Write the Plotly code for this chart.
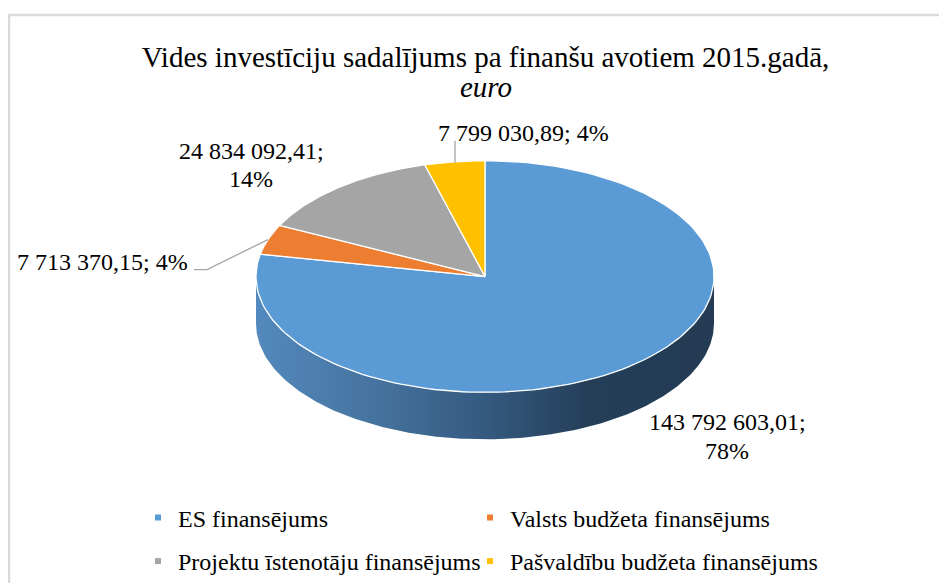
import numpy as np
import plotly.graph_objects as go

categories = ["ES finansējums", "Valsts budžeta finansējums",
              "Projektu īstenotāju finansējums", "Pašvaldību budžeta finansējums"]
values = [143792603.01, 7713370.15, 24834092.41, 7799030.89]
percent_labels = ["78%", "4%", "14%", "4%"]
value_labels = ["143 792 603,01", "7 713 370,15", "24 834 092,41", "7 799 030,89"]
colors = ["#5B9BD5", "#ED7D31", "#A5A5A5", "#FFC000"]

FONT = "Liberation Serif"
W, H = 947, 584
PAGE_MARGIN = 8
CX, CY, RX, RY, DEPTH = 485, 277, 229, 116, 47


def pt(t):
    return CX + RX * np.sin(t), CY - RY * np.cos(t)


def paper_x(px):
    return (px - PAGE_MARGIN) / (W - PAGE_MARGIN)


def paper_y(py):
    return 1 - (py - PAGE_MARGIN) / (H - PAGE_MARGIN)


fig = go.Figure()

# Side wall of the disc (only the front half is visible)
ts = np.linspace(np.pi / 2, 3 * np.pi / 2, 200)
ex, ey = pt(ts)
fig.add_trace(go.Scatter(
    x=np.r_[ex, ex[::-1]], y=np.r_[ey + DEPTH, ey[::-1]],
    mode="lines", line=dict(width=0), showlegend=False, hoverinfo="skip",
    fill="toself",
    fillgradient=dict(type="horizontal", start=CX - RX, stop=CX + RX,
                      colorscale=[[0, "#5389BD"], [0.25, "#4674A0"], [0.5, "#355A80"],
                                  [0.72, "#253F59"], [1, "#233B53"]]),
))

# Top face: one sector per value, clockwise from 12 o'clock
share = np.array(values) / sum(values)
edges = np.r_[0, np.cumsum(share)] * 2 * np.pi
for i, name in enumerate(categories):
    t = np.linspace(edges[i], edges[i + 1], 160)
    x, y = pt(t)
    fig.add_trace(go.Scatter(
        x=np.r_[CX, x, CX], y=np.r_[CY, y, CY], mode="lines",
        line=dict(color="white", width=1.3), fill="toself", fillcolor=colors[i],
        showlegend=False, name=name,
        hovertemplate=f"{name}<br>{value_labels[i]}; {percent_labels[i]}<extra></extra>",
    ))

# Legend entries: each in its own legend box, placed on a 2x2 grid
legend_ids = ["legend", "legend2", "legend3", "legend4"]
for i, name in enumerate(categories):
    fig.add_trace(go.Scatter(
        x=[None], y=[None], mode="markers", name=name,
        marker=dict(symbol="square", size=6, color=colors[i]),
        legend=legend_ids[i],
    ))

# Data labels (one annotation per line, for the tight line spacing)
label_lines = [
    (f"{value_labels[0]};", 727, 423),
    (percent_labels[0], 727, 452),
    (f"{value_labels[1]}; {percent_labels[1]}", 102, 262),
    (f"{value_labels[2]};", 251, 151),
    (percent_labels[2], 251, 179),
    (f"{value_labels[3]}; {percent_labels[3]}", 523, 133),
]
for txt, lx, ly in label_lines:
    fig.add_annotation(x=lx, y=ly, text=txt, showarrow=False, xanchor="center", yanchor="middle",
                       font=dict(family=FONT, size=24, color="black"))

# Second title line
fig.add_annotation(x=485.5, y=87, text="<i>euro</i>", showarrow=False, xanchor="center",
                   yanchor="middle", font=dict(family=FONT, size=29, color="black"))

# Leader lines and chart frame
grey = "#A6A6A6"
shapes = [
    dict(type="path", path="M 194 270 L 207 270 L 268 240", line=dict(color=grey, width=1.3)),
    dict(type="path", path="M 455 163 L 455 141", line=dict(color=grey, width=1.3)),
    dict(type="rect", x0=9, y0=15, x1=990, y1=640, line=dict(color="#D9D9D9", width=2.5),
         fillcolor="rgba(0,0,0,0)"),
]

legend_common = dict(orientation="v", itemwidth=30, xanchor="left", yanchor="middle",
                     bgcolor="rgba(0,0,0,0)", font=dict(family=FONT, size=24, color="black"))

fig.update_layout(
    width=W - PAGE_MARGIN, height=H - PAGE_MARGIN, margin=dict(l=0, r=0, t=0, b=0), autosize=False,
    paper_bgcolor="white", plot_bgcolor="white", showlegend=True, shapes=shapes,
    xaxis=dict(range=[PAGE_MARGIN, W], visible=False, fixedrange=True),
    yaxis=dict(range=[H, PAGE_MARGIN], visible=False, fixedrange=True),
    title=dict(text="Vides investīciju sadalījums pa finanšu avotiem 2015.gadā,",
               x=paper_x(485.5), xanchor="center", y=paper_y(57), yanchor="middle",
               font=dict(family=FONT, size=29, color="black")),
    legend=dict(x=paper_x(138), y=paper_y(518), **legend_common),
    legend2=dict(x=paper_x(470), y=paper_y(518), **legend_common),
    legend3=dict(x=paper_x(138), y=paper_y(562), **legend_common),
    legend4=dict(x=paper_x(470), y=paper_y(562), **legend_common),
)

fig.write_html("out.html")
